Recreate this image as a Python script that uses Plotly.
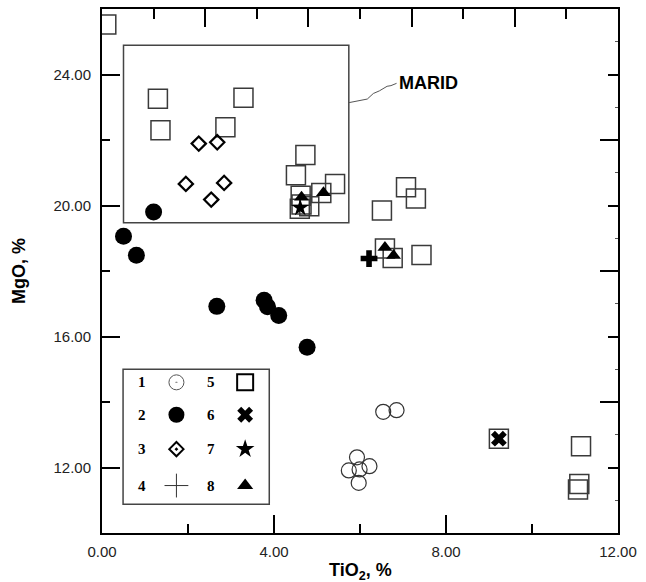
import plotly.graph_objects as go

# ---------------- data (TiO2 %, MgO %) ----------------
s1_ti = [6.54, 6.85, 5.93, 6.22, 5.74, 5.99, 5.97]
s1_mg = [13.70, 13.75, 12.31, 12.04, 11.91, 11.94, 11.53]

s2_ti = [1.20, 0.50, 0.80, 2.67, 3.77, 3.85, 4.11, 4.77]
s2_mg = [19.80, 19.06, 18.48, 16.92, 17.11, 16.91, 16.64, 15.67]

s3_ti = [2.25, 2.68, 1.95, 2.84, 2.54]
s3_mg = [21.89, 21.93, 20.66, 20.69, 20.18]

s4_ti = [6.21]
s4_mg = [18.38]

s5_ti = [0.10, 1.30, 1.36, 3.29, 2.87, 4.73, 4.51, 5.42, 5.10, 4.62, 4.64, 4.82, 4.60,
         7.07, 7.30, 6.51, 6.58, 6.76, 7.43, 9.23, 11.14, 11.10, 11.07]
s5_mg = [25.53, 23.26, 22.30, 23.29, 22.39, 21.54, 20.92, 20.66, 20.38, 20.30, 20.03, 19.98, 19.90,
         20.56, 20.21, 19.85, 18.69, 18.40, 18.49, 12.88, 12.65, 11.50, 11.33]

s6_ti = [9.23]
s6_mg = [12.88]

s7_ti = [4.61]
s7_mg = [19.93]

s8_ti = [4.64, 5.15, 6.58, 6.78]
s8_mg = [20.25, 20.39, 18.72, 18.47]

x_ticks = [0, 4, 8, 12]
y_ticks = [12, 16, 20, 24]
legend_labels = ["1", "2", "3", "4", "5", "6", "7", "8"]
marid_label = "MARID"

# MARID field box and leader line (data coords)
marid_box = dict(x0=0.50, x1=5.74, y0=19.47, y1=24.89)
leader_x = [5.74, 6.00, 6.17, 6.31, 6.45, 6.63, 6.72, 6.85]
leader_y = [23.14, 23.20, 23.25, 23.42, 23.50, 23.64, 23.66, 23.73]

# legend box (data coords)
leg_box = dict(x0=0.49, x1=3.89, y0=10.88, y1=15.00)
leg_cols = [0.132, 0.365, 0.603, 0.835]
leg_rows = [0.097, 0.337, 0.592, 0.862]

BLACK = "#000000"
SQ = "#3a3a3a"

styles = {
    1: dict(symbol="circle-open", size=15, color="#333333", line=dict(width=1.2, color="#333333")),
    2: dict(symbol="circle", size=17, color=BLACK, line=dict(width=0)),
    3: dict(symbol="diamond-open", size=11, color=BLACK, line=dict(width=2.2, color=BLACK)),
    4: dict(symbol="cross", size=14, color=BLACK, line=dict(width=0)),
    5: dict(symbol="square-open", size=19, color=SQ, line=dict(width=1.5, color=SQ)),
    6: dict(symbol="x", size=14, color=BLACK, line=dict(width=0)),
    7: dict(symbol="star", size=13, color=BLACK, line=dict(width=0)),
    8: dict(symbol="triangle-up", size=13, color=BLACK, line=dict(width=0)),
}
leg_styles = {
    1: dict(symbol="circle-open-dot", size=15, color="#555555", line=dict(width=1, color="#555555")),
    2: dict(symbol="circle", size=16, color=BLACK, line=dict(width=0)),
    3: dict(symbol="diamond-open-dot", size=11, color=BLACK, line=dict(width=2, color=BLACK)),
    4: dict(symbol="cross-thin-open", size=17, color="#333333", line=dict(width=1, color="#333333")),
    5: dict(symbol="square-open", size=16, color=BLACK, line=dict(width=2, color=BLACK)),
    6: dict(symbol="x", size=14, color=BLACK, line=dict(width=0)),
    7: dict(symbol="star", size=14, color=BLACK, line=dict(width=0)),
    8: dict(symbol="triangle-up", size=14, color=BLACK, line=dict(width=0)),
}

fig = go.Figure()

# leader line
fig.add_trace(go.Scatter(x=leader_x, y=leader_y, mode="lines",
                         line=dict(color="#555555", width=1), hoverinfo="skip", showlegend=False))

series = [(5, s5_ti, s5_mg), (1, s1_ti, s1_mg), (2, s2_ti, s2_mg), (3, s3_ti, s3_mg),
          (4, s4_ti, s4_mg), (6, s6_ti, s6_mg), (8, s8_ti, s8_mg), (7, s7_ti, s7_mg)]
for k, xs, ys in series:
    fig.add_trace(go.Scatter(x=xs, y=ys, mode="markers", marker=styles[k],
                             name=str(k), showlegend=False))

# custom legend
lw = leg_box["x1"] - leg_box["x0"]
lh = leg_box["y1"] - leg_box["y0"]
for i, lab in enumerate(legend_labels):
    col = 0 if i < 4 else 2
    row = i % 4
    xn = leg_box["x0"] + leg_cols[col] * lw
    xs = leg_box["x0"] + leg_cols[col + 1] * lw
    yy = leg_box["y1"] - leg_rows[row] * lh
    fig.add_annotation(x=xn, y=yy, text="<b>%s</b>" % lab, showarrow=False,
                       font=dict(family="Liberation Serif", size=15, color=BLACK),
                       xanchor="center", yanchor="middle")
    fig.add_trace(go.Scatter(x=[xs], y=[yy], mode="markers", marker=leg_styles[i + 1],
                             showlegend=False, hoverinfo="skip"))

# dummy traces for auxiliary axes
fig.add_trace(go.Scatter(x=[0], y=[10], xaxis="x2", yaxis="y2", mode="markers",
                         marker=dict(opacity=0), showlegend=False, hoverinfo="skip"))
fig.add_trace(go.Scatter(x=[0], y=[10], xaxis="x", yaxis="y3", mode="markers",
                         marker=dict(opacity=0), showlegend=False, hoverinfo="skip"))

fig.add_shape(type="rect", xref="x", yref="y", layer="below",
              line=dict(color="#444444", width=1.5), **marid_box)
fig.add_shape(type="rect", xref="x", yref="y", layer="below",
              line=dict(color="#444444", width=1.5), **leg_box)

fig.add_annotation(x=leader_x[-1] + 0.02, y=leader_y[-1] + 0.02, text="<b>%s</b>" % marid_label,
                   showarrow=False, xanchor="left", yanchor="middle",
                   font=dict(family="Liberation Sans", size=18, color=BLACK))

fig.add_annotation(x=0.5, y=-0.073, xref="paper", yref="paper",
                   text="<b>TiO<sub>2</sub>, %</b>", showarrow=False,
                   xanchor="center", yanchor="middle",
                   font=dict(family="Liberation Sans", size=18, color=BLACK))
fig.add_annotation(x=-0.161, y=0.5, xref="paper", yref="paper",
                   text="<b>MgO, %</b>", showarrow=False, textangle=-90,
                   xanchor="center", yanchor="middle",
                   font=dict(family="Liberation Sans", size=18, color=BLACK))

tickfont = dict(family="Liberation Sans", size=15, color="#222222")
common = dict(showline=True, linewidth=2, linecolor=BLACK, showgrid=False, zeroline=False,
              ticks="inside", tickwidth=2, tickcolor=BLACK)

fig.update_layout(
    width=646, height=582,
    margin=dict(l=102, r=23, t=9, b=49),
    paper_bgcolor="white", plot_bgcolor="white",
    showlegend=False,
    xaxis=dict(range=[0, 12], tickmode="array", tickvals=x_ticks,
               ticktext=["%.2f" % v for v in x_ticks], ticklen=18,
               minor=dict(ticks="inside", tickmode="array", tickvals=[2, 6, 10],
                          ticklen=9, tickwidth=2, tickcolor=BLACK),
               tickfont=tickfont, ticklabelstandoff=4, **common),
    yaxis=dict(range=[10, 26], tickmode="array", tickvals=y_ticks,
               ticktext=["%.2f" % v for v in y_ticks], ticklen=18,
               minor=dict(ticks="inside", tickmode="array", tickvals=[14, 18, 22],
                          ticklen=8, tickwidth=2, tickcolor=BLACK),
               tickfont=tickfont, ticklabelstandoff=6, **common),
    xaxis2=dict(range=[0, 12], overlaying="x", side="top", anchor="y",
                tickmode="array", tickvals=[2.4, 4.8, 7.2, 9.6], ticklen=18,
                minor=dict(ticks="inside", tickmode="array", tickvals=[1.2, 3.6, 6.0, 8.4, 10.8],
                           ticklen=10, tickwidth=2, tickcolor=BLACK),
                showticklabels=False, **common),
    yaxis2=dict(range=[10, 26], overlaying="y", side="right", anchor="x",
                tickmode="array", tickvals=[14, 18, 22], ticklen=18,
                minor=dict(ticks="inside", tickmode="array", tickvals=[12, 16, 20, 24],
                           ticklen=10, tickwidth=2, tickcolor=BLACK),
                showticklabels=False, **common),
    yaxis3=dict(range=[10, 26], overlaying="y", side="right", anchor="x",
                tickmode="array", tickvals=[11, 13, 15, 17, 19, 21, 23, 25],
                ticks="inside", ticklen=3, tickwidth=1, tickcolor="#555555",
                showline=False, showgrid=False, zeroline=False, showticklabels=False),
)

fig.write_html("out.html")
